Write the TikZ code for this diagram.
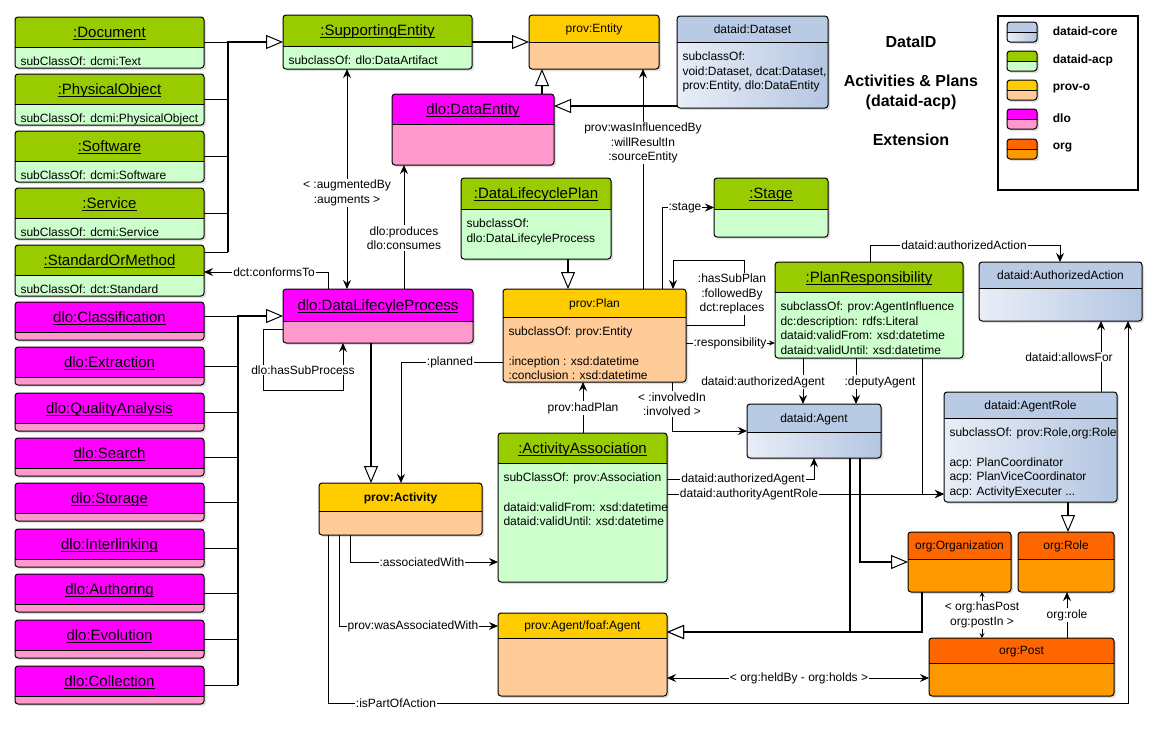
\documentclass[tikz,border=0pt]{standalone}
\usepackage{fontspec}
\setmainfont{Liberation Sans}
\usetikzlibrary{arrows.meta,shadows}

\definecolor{acphead}{HTML}{99CC00}
\definecolor{acpbody}{HTML}{CCFFCC}
\definecolor{provhead}{HTML}{FFCC00}
\definecolor{provbody}{HTML}{FFCC99}
\definecolor{dlohead}{HTML}{FF00FF}
\definecolor{dlobody}{HTML}{FF99CC}
\definecolor{orghead}{HTML}{FF6600}
\definecolor{orgbody}{HTML}{FF9900}
\definecolor{corehead}{HTML}{B8CAE4}
\definecolor{coreleft}{HTML}{E9EEF7}
\definecolor{coreright}{HTML}{B4C6E2}

\tikzset{
  classbox/.style={rounded corners=3pt, inner sep=0pt, outer sep=0pt,
    drop shadow={opacity=0.25, shadow xshift=2pt, shadow yshift=-2pt}},
  acp head/.style={fill=acphead}, acp body/.style={fill=acpbody}, acp title/.style={yshift=-5.4pt},
  dlo head/.style={fill=dlohead}, dlo body/.style={fill=dlobody}, dlo title/.style={yshift=-5.4pt},
  prov head/.style={fill=provhead}, prov body/.style={fill=provbody}, prov title/.style={yshift=-4.3pt},
  org head/.style={fill=orghead}, org body/.style={fill=orgbody}, org title/.style={yshift=-4.3pt},
  core head/.style={fill=corehead}, core body/.style={left color=coreleft, right color=coreright},
  core title/.style={yshift=-4.3pt},
  assoc/.style={-{Stealth[length=9pt,width=8pt,inset=3pt]}},
  assoc2/.style={{Stealth[length=9pt,width=8pt,inset=3pt]}-{Stealth[length=9pt,width=8pt,inset=3pt]}},
  assocsm/.style={-{Stealth[length=6pt,width=5pt,inset=2pt]}},
  assocsm2/.style={{Stealth[length=5pt,width=5pt,inset=2pt]}-{Stealth[length=5pt,width=5pt,inset=2pt]}},
  genl/.style={line width=2pt, -{Triangle[length=17pt,width=14pt,fill=white,line width=1pt]}},
  lbl/.style={fill=white, inner sep=1pt, align=center},
  bold12/.style={font=\fontsize{12}{14.5}\selectfont\bfseries},
  head16/.style={font=\fontsize{16}{20}\selectfont\bfseries, align=center}
}

% underlined class title
\newcommand{\ut}[1]{{\fontsize{15}{18}\selectfont\setbox0\hbox{#1}\rlap{\rule[-2.5pt]{\wd0}{1pt}}\box0}}

% #1 name, #2 left, #3 top, #4 right, #5 separator, #6 bottom, #7 kind, #8 title, #9 body
\newcommand{\umlclass}[9]{
  \pgfmathsetmacro{\bw}{#4-#2}
  \pgfmathsetmacro{\bh}{#6-#3}
  \pgfmathsetmacro{\hy}{(#3+#5)/2}
  \pgfmathsetmacro{\cbx}{#2+5}
  \pgfmathsetmacro{\cby}{#5+9.5}
  \node[classbox, #7 body, minimum width=\bw pt, minimum height=\bh pt, anchor=north west] (#1) at (#2,#3) {};
  \begin{scope}
    \clip (#1.north west) rectangle (#4,#5);
    \fill[#7 head, rounded corners=3pt] (#1.north west) rectangle (#1.south east);
  \end{scope}
  \draw[rounded corners=3pt] (#1.north west) rectangle (#1.south east);
  \draw (#2,#5) -- (#4,#5);
  \node[#7 title, anchor=base] (#1-t) at (#1.north |- 0,\hy) {#8};
  \node[anchor=north west, align=left, inner sep=0pt] (#1-b) at (\cbx,\cby) {#9};
}

\begin{document}
\begin{tikzpicture}[x=1pt, y=-1pt, line width=1pt, font=\fontsize{12}{14.5}\selectfont]
\useasboundingbox (0,0) rectangle (1157,729);

% left column
\foreach \nm/\lab/\y/\sub in {doc/Document/17/dcmi:Text, phys/PhysicalObject/74/dcmi:PhysicalObject,
    soft/Software/131/dcmi:Software, serv/Service/188/dcmi:Service, std/StandardOrMethod/245/dct:Standard}{
  \pgfmathsetmacro{\ys}{\y+30}
  \pgfmathsetmacro{\yb}{\y+51}
  \umlclass{\nm}{15}{\y}{204}{\ys}{\yb}{acp}{\ut{:\lab}}{subClassOf: \sub}
}
\foreach \nm/\lab/\y in {cls/Classification/302, ext/Extraction/347, qa/QualityAnalysis/393,
    srch/Search/438, stor/Storage/483, intl/Interlinking/529, auth/Authoring/574,
    evo/Evolution/620, coll/Collection/666}{
  \pgfmathsetmacro{\ys}{\y+30}
  \pgfmathsetmacro{\yb}{\y+38}
  \umlclass{\nm}{15}{\y}{204}{\ys}{\yb}{dlo}{\ut{dlo:\lab}}{}
}

% classes
\umlclass{se}{283}{15}{472}{46}{69}{acp}{\ut{:SupportingEntity}}{subclassOf: dlo:DataArtifact}
\umlclass{pe}{529}{15}{659}{42}{69}{prov}{prov:Entity}{}
\umlclass{ds}{677}{16}{828}{42}{108}{core}{dataid:Dataset}{subclassOf:\\void:Dataset, dcat:Dataset,\\prov:Entity, dlo:DataEntity}
\umlclass{de}{392}{94}{554}{124}{165}{dlo}{\ut{dlo:DataEntity}}{}
\umlclass{dlcp}{461}{178}{611}{209}{259}{acp}{\ut{:DataLifecyclePlan}}{subclassOf:\\dlo:DataLifecyleProcess}
\umlclass{stage}{714}{178}{828}{209}{237}{acp}{\ut{:Stage}}{}
\umlclass{dlp}{283}{289}{473}{321}{343}{dlo}{\ut{dlo:DataLifecyleProcess}}{}
\umlclass{plan}{503}{289}{686}{317}{382}{prov}{prov:Plan}{subclassOf: prov:Entity\\[15pt]:inception : xsd:datetime\\:conclusion : xsd:datetime}
\umlclass{pr}{775}{262}{963}{292}{358}{acp}{\ut{:PlanResponsibility}}{subclassOf: prov:AgentInfluence\\dc:description: rdfs:Literal\\dataid:validFrom: xsd:datetime\\dataid:validUntil: xsd:datetime}
\umlclass{aa}{979}{262}{1142}{288}{321}{core}{dataid:AuthorizedAction}{}
\umlclass{ag}{747}{404}{881}{432}{458}{core}{dataid:Agent}{}
\umlclass{ar}{944}{392}{1117}{418}{502}{core}{dataid:AgentRole}{subclassOf: prov:Role,org:Role\\[15pt]acp: PlanCoordinator\\acp: PlanViceCoordinator\\acp: ActivityExecuter ...}
\umlclass{act}{319}{483}{482}{511}{535}{prov}{\textbf{prov:Activity}}{}
\umlclass{asc}{498}{433}{667}{463}{582}{acp}{\ut{:ActivityAssociation}}{subClassOf: prov:Association\\[15pt]dataid:validFrom: xsd:datetime\\dataid:validUntil: xsd:datetime}
\umlclass{pag}{498}{613}{667}{638}{696}{prov}{prov:Agent/foaf:Agent}{}
\umlclass{orgn}{908}{532}{1011}{559}{592}{org}{org:Organization}{}
\umlclass{role}{1018}{532}{1114}{559}{592}{org}{org:Role}{}
\umlclass{post}{929}{638}{1114}{663}{696}{org}{org:Post}{}

% title and legend
\node[head16] (ttl1) at (911,42) {DataID};
\node[head16] (ttl2) at (911,92) {Activities \& Plans\\(dataid-acp)};
\node[head16] (ttl3) at (911,140) {Extension};
\node[draw, line width=1.5pt, minimum width=140pt, minimum height=174pt, inner sep=0pt, anchor=north west] (legend) at (997,15) {};
\foreach \k/\txt/\yy in {core/dataid-core/22, acp/dataid-acp/51, prov/prov-o/80, dlo/dlo/109, org/org/139}{
  \pgfmathsetmacro{\ys}{\yy+10}
  \pgfmathsetmacro{\yb}{\yy+20}
  \umlclass{key\k}{1007}{\yy}{1037}{\ys}{\yb}{\k}{}{}
  \node[bold12, anchor=west] (key\k-l) at (1049,\yy+9) {\txt};
}

% subclass buses on the left
\coordinate (gbus) at (228,252);
\coordinate (mbus) at (coll.east -| 238,0);
\foreach \nm in {doc,phys,soft,serv} \draw (\nm.east) -- (\nm.east -| gbus);
\draw (std.east |- gbus) -- (gbus);
\draw[genl] (gbus) |- (se.west);
\foreach \nm in {ext,qa,srch,stor,intl,auth,evo,coll} \draw (\nm.east) -- (\nm.east -| mbus);
\draw (cls.east |- dlp.west) -- (dlp.west -| mbus);
\draw[genl] (mbus) |- (dlp.west);

% generalisations
\draw[genl] (se.east) -- (pe.west);
\draw[genl] (de.north -| 542,0) -- (pe.south -| 542,0);
\draw[genl] (ds.west |- 0,106) -- (de.east |- 0,106);
\draw[genl] (dlp.south -| 371,0) -- (act.north -| 371,0);
\draw[genl] (dlcp.south -| 568,0) -- (plan.north -| 568,0);
\draw[genl] (ag.south -| 860,0) |- (orgn.west);
\draw[genl] (ag.south -| 850,0) |- (pag.east |- 0,632);
\draw[genl] (orgn.south -| 922,0) |- (pag.east |- 0,632);
\draw[genl] (ar.south -| 1068,0) -- (role.north -| 1068,0);

% properties
\draw[assoc2] (se.south -| 347,0) -- (dlp.north -| 347,0)
  node[lbl] (l-aug) at (347,193) {< :augmentedBy\\:augments >};
\draw[assoc] (dlp.north -| 404,0) -- (de.south -| 404,0)
  node[lbl] (l-prod) at (404,238) {dlo:produces\\dlo:consumes};
\draw[assoc] (dlp.north -| 328,0) |- (std.east |- 0,272)
  node[lbl] (l-conf) at (274,272) {dct:conformsTo};
\draw[assoc] (dlp.west |- 0,329) -| (263,390) -| (dlp.south -| 343,0)
  node[lbl] (l-sub) at (303,370) {dlo:hasSubProcess};
\draw[assoc] (plan.west |- 0,362) -| (act.north -| 401,0)
  node[lbl] (l-plan) at (450,362) {:planned};
\draw[assoc] (plan.north -| 643,0) -- (pe.south -| 643,0)
  node[lbl] (l-infl) at (643,143) {prov:wasInfluencedBy\\:willResultIn\\:sourceEntity};
\draw[assoc] (plan.north -| 662,0) |- (stage.west)
  node[lbl] (l-stage) at (685,208) {:stage};
\draw[assoc] (plan.east |- 0,325) -| (744,260) -| (plan.north -| 673,0)
  node[lbl] (l-subplan) at (732,294) {:hasSubPlan\\:followedBy\\dct:replaces};
\draw[assocsm] (plan.east |- 0,343) -- (pr.west |- 0,343)
  node[lbl] (l-resp) at (730,343) {:responsibility};
\draw[assoc] (pr.north -| 870,0) |- (1060,245) -- (aa.north -| 1060,0)
  node[lbl] (l-action) at (964,245) {dataid:authorizedAction};
\draw[assoc] (pr.south -| 803,0) -- (ag.north -| 803,0)
  node[lbl] (l-auth1) at (763,382) {dataid:authorizedAgent};
\draw[assoc] (pr.south -| 856,0) -- (ag.north -| 856,0)
  node[lbl] (l-dep) at (880,382) {:deputyAgent};
\draw[assoc] (pr.south -| 922,0) |- (ar.west |- 0,494);
\draw[assoc] (ar.north -| 1101,0) -- (aa.south -| 1101,0)
  node[lbl] (l-allow) at (1069,357) {dataid:allowsFor};
\draw[assoc] (act.south -| 328,0) |- (1128,703) -- (aa.south -| 1128,0)
  node[lbl] (l-part) at (396,703) {:isPartOfAction};
\draw[assoc] (act.south -| 350,0) |- (asc.west |- 0,562)
  node[lbl] (l-asc) at (422,562) {:associatedWith};
\draw[assoc] (act.south -| 339,0) |- (pag.west |- 0,626)
  node[lbl] (l-wasasc) at (413,626) {prov:wasAssociatedWith};
\draw[assoc] (asc.north -| 583,0) -- (plan.south -| 583,0)
  node[lbl] (l-had) at (583,408) {prov:hadPlan};
\draw[assoc] (plan.south -| 672,0) |- (ag.west)
  node[lbl] (l-inv) at (672,404) {< :involvedIn\\:involved >};
\draw[assoc] (asc.east |- 0,479) -| (ag.south -| 814,0)
  node[lbl] (l-auth2) at (743,479) {dataid:authorizedAgent};
\draw[assoc] (asc.east |- 0,494) -- (ar.west |- 0,494)
  node[lbl] (l-role) at (749,494) {dataid:authorityAgentRole};
\draw[assocsm2] (orgn.south -| 982,0) -- (post.north -| 982,0)
  node[lbl] (l-post) at (982,615) {< org:hasPost\\org:postIn >};
\draw[assoc] (post.north -| 1067,0) -- (role.south -| 1067,0)
  node[lbl] (l-orgrole) at (1067,615) {org:role};
\draw[assoc2] (pag.east |- 0,678) -- (post.west |- 0,678)
  node[lbl] (l-held) at (799,678) {< org:heldBy - org:holds >};
\end{tikzpicture}
\end{document}
